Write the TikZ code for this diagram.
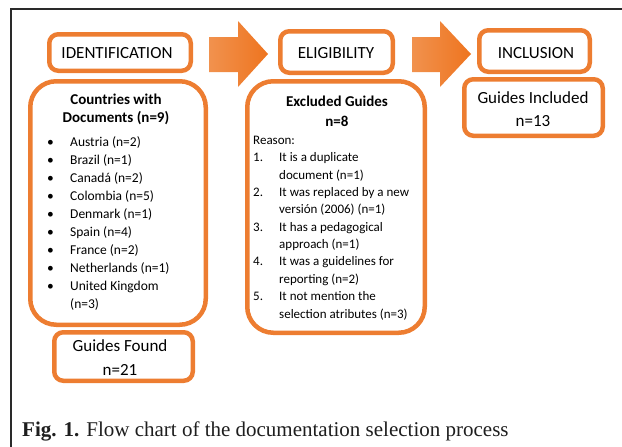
\documentclass[tikz,border=0pt]{standalone}
\usepackage{fontspec}
\setmainfont{Liberation Serif}
\newfontfamily\carl{Carlito}
\definecolor{orng}{HTML}{ED7D31}
\definecolor{orngL}{HTML}{F1924E}
\definecolor{orngD}{HTML}{EE741F}
\definecolor{framec}{HTML}{2A2A2A}
\definecolor{captc}{HTML}{1E1E1E}
\begin{document}
\begin{tikzpicture}[x=1pt,y=-1pt,
  obox/.style={draw=orng, line width=4.5pt, fill=white, inner sep=0pt},
  smallr/.style={rounded corners=9pt},
  bigr/.style={rounded corners=26pt},
  headtxt/.style={font=\carl\fontsize{17}{23}\selectfont, inner sep=0pt, anchor=base},
  titletxt/.style={font=\carl\bfseries\fontsize{15}{19}\selectfont, inner sep=0pt, anchor=base},
  listtxt/.style={font=\carl\fontsize{13.5}{18}\selectfont, inner sep=0pt, anchor=base west},
  reasontxt/.style={font=\carl\fontsize{13}{17}\selectfont, inner sep=0pt, anchor=base west},
  bullettxt/.style={font=\carl\fontsize{13.5}{18}\selectfont, inner sep=0pt, anchor=base},
  blockarrow/.style={left color=orngL, right color=orngD}
]
\useasboundingbox (0,0) rectangle (622,447);
% frame
\draw[framec, line width=2.5pt] (11,447) -- (11,9) -- (622,9);

% boxes
\node[obox, smallr, minimum width=141.5pt, minimum height=36.5pt] (ident) at (120,52.5) {};
\node[obox, bigr, minimum width=175.5pt, minimum height=243.5pt] (countries) at (118,203) {};
\node[obox, smallr, minimum width=138.5pt, minimum height=48.5pt] (found) at (123.5,356.5) {};
\node[obox, smallr, minimum width=112.5pt, minimum height=41.5pt] (elig) at (336.5,52) {};
\node[obox, bigr, minimum width=177.5pt, minimum height=251.5pt] (excl) at (336,207) {};
\node[obox, smallr, minimum width=110.5pt, minimum height=41.5pt] (incl) at (534.5,51) {};
\node[obox, smallr, minimum width=138.5pt, minimum height=56.5pt] (included) at (533.5,107.5) {};

% block arrows
\shade[blockarrow] (209,37) -- (238,37) -- (238,21) -- (268,54) -- (238,87) -- (238,72) -- (209,72) -- cycle;
\shade[blockarrow] (412,37) -- (440,37) -- (440,21) -- (471,54) -- (440,87) -- (440,72) -- (412,72) -- cycle;

% headings
\node[headtxt] (identT) at (117,58.3) {IDENTIFICATION};
\node[headtxt] (eligT) at (336,58.3) {ELIGIBILITY};
\node[headtxt] (inclT) at (536,58) {INCLUSION};
\node[headtxt] (includedA) at (533,103.3) {Guides Included};
\node[headtxt] (includedB) at (533,126) {n=13};
\node[headtxt] (foundA) at (120,351.7) {Guides Found};
\node[headtxt] (foundB) at (120,375) {n=21};

% countries
\node[titletxt] (cT1) at (116,104.3) {Countries with};
\node[titletxt] (cT2) at (116,122.7) {Documents (n=9)};
\foreach \txt [count=\i from 0] in {Austria (n=2),Brazil (n=1),Canadá (n=2),Colombia (n=5),Denmark (n=1),Spain (n=4),France (n=2),Netherlands (n=1),United Kingdom}{
  \node[bullettxt] (cb\i) at (50.5,146+18*\i) {•};
  \node[listtxt] (cl\i) at (70,146+18*\i) {\txt};
}
\node[listtxt] (cl9) at (70,308) {(n=3)};

% excluded
\node[titletxt] (eT1) at (337,106) {Excluded Guides};
\node[titletxt] (eT2) at (337,126.7) {n=8};
\node[reasontxt] (reason) at (253,144) {Reason:};
\foreach \num/\ta/\tb [count=\i from 0] in {1./It is a duplicate/document (n=1),2./It was replaced by a new/versión (2006) (n=1),3./It has a pedagogical/approach (n=1),4./It was a guidelines for/reporting (n=2),5./It not mention the/selection atributes (n=3)}{
  \node[reasontxt] (en\i) at (253,161.5+34.8*\i) {\num};
  \node[reasontxt] (ea\i) at (279,161.5+34.8*\i) {\ta};
  \node[reasontxt] (eb\i) at (279,179+34.8*\i) {\tb};
}

% caption
\node[text=captc, font=\fontsize{21}{25}\selectfont, inner sep=0pt, anchor=base west] (caption) at (22,436.5) {\textbf{Fig. 1.} Flow chart of the documentation selection process};
\end{tikzpicture}
\end{document}
